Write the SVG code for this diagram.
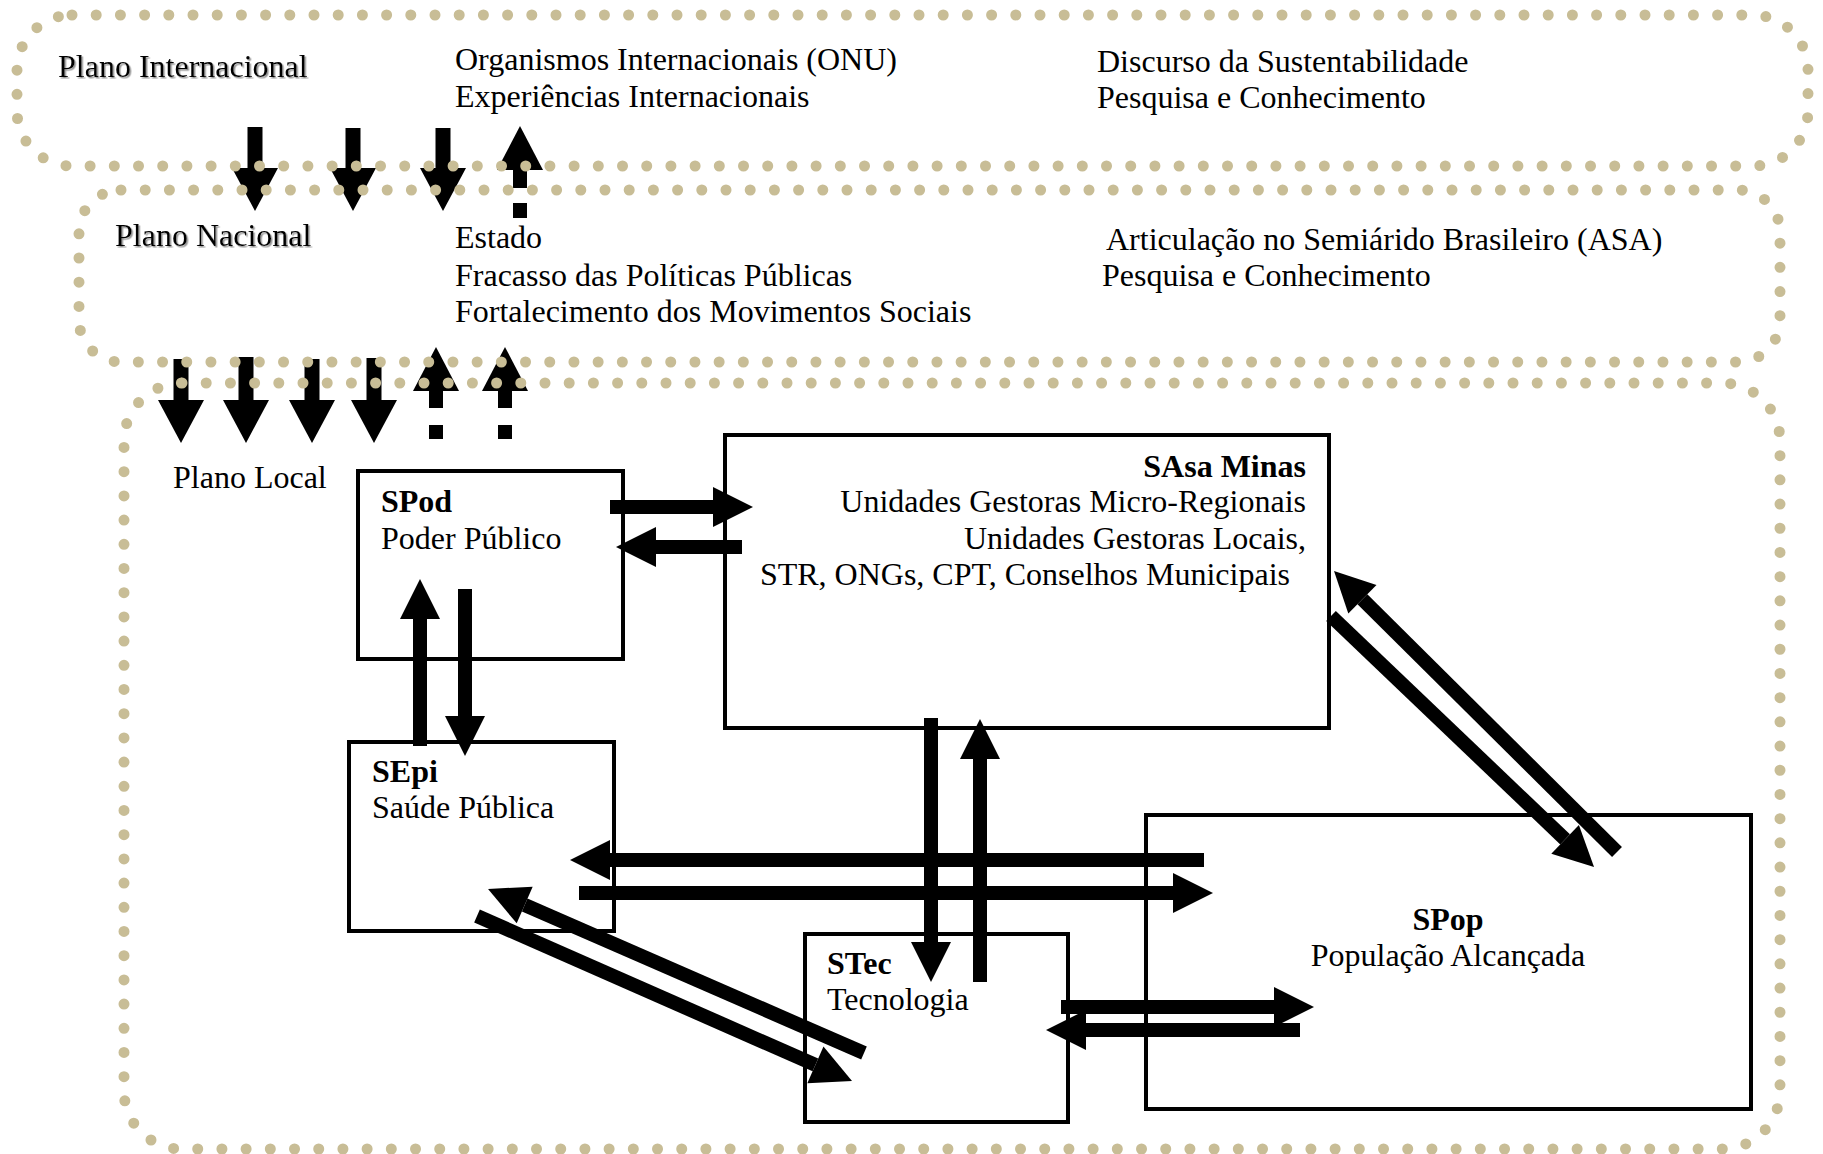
<svg xmlns="http://www.w3.org/2000/svg" width="1823" height="1154" viewBox="0 0 1823 1154">
  <style>
    .t { font-family: "Liberation Serif", "Times New Roman", serif; font-size: 32px; fill: #000; }
    .b { font-weight: bold; }
    .box { fill: none; stroke: #000; stroke-width: 4; }
    .plane { fill: none; stroke: #c8bd96; stroke-width: 11; stroke-linecap: round; stroke-dasharray: 0 24.2; }
    .shaft { stroke: #000; stroke-width: 14; fill: none; marker-end: url(#head); }
    .shaftL { stroke: #000; stroke-width: 15; fill: none; marker-end: url(#headL); }
  </style>
  <defs>
    <marker id="head" markerUnits="userSpaceOnUse" viewBox="0 -20 40 40" markerWidth="40" markerHeight="40" refX="0" refY="0" orient="auto" overflow="visible">
      <path d="M0,-20 L40,0 L0,20 Z" fill="#000"/>
    </marker>
    <marker id="headL" markerUnits="userSpaceOnUse" viewBox="0 -23 43 46" markerWidth="43" markerHeight="46" refX="0" refY="0" orient="auto" overflow="visible">
      <path d="M0,-23 L43,0 L0,23 Z" fill="#000"/>
    </marker>
    <filter id="shadow" x="-5%" y="-30%" width="110%" height="160%">
      <feDropShadow dx="1.5" dy="1.5" stdDeviation="0.6" flood-color="#8a8a8a" flood-opacity="0.9"/>
    </filter>
  </defs>

  <!-- subsystem boxes -->
  <g id="spod">
    <rect class="box" x="358" y="471" width="265" height="188"/>
    <text class="t b" x="381" y="512">SPod</text>
    <text class="t" x="381" y="549">Poder Público</text>
  </g>
  <g id="sasa">
    <rect class="box" x="725" y="435" width="604" height="293"/>
    <text class="t b" x="1306" y="477" text-anchor="end">SAsa Minas</text>
    <text class="t" x="1306" y="512" text-anchor="end">Unidades Gestoras Micro-Regionais</text>
    <text class="t" x="1306" y="549" text-anchor="end">Unidades Gestoras Locais,</text>
    <text class="t" x="1290" y="585" text-anchor="end">STR, ONGs, CPT, Conselhos Municipais</text>
  </g>
  <g id="sepi">
    <rect class="box" x="349" y="742" width="265" height="189"/>
    <text class="t b" x="372" y="782">SEpi</text>
    <text class="t" x="372" y="818">Saúde Pública</text>
  </g>
  <g id="stec">
    <rect class="box" x="805" y="934" width="263" height="188"/>
    <text class="t b" x="827" y="974">STec</text>
    <text class="t" x="827" y="1010">Tecnologia</text>
  </g>
  <g id="spop">
    <rect class="box" x="1146" y="815" width="605" height="294"/>
    <text class="t b" x="1448" y="930" text-anchor="middle">SPop</text>
    <text class="t" x="1448" y="966" text-anchor="middle">População Alcançada</text>
  </g>

  <!-- connectors -->
  <g id="connectors">
    <!-- internacional <-> nacional -->
    <line class="shaftL" x1="255" y1="127" x2="255" y2="168"/>
    <line class="shaftL" x1="353" y1="128" x2="353" y2="168"/>
    <line class="shaftL" x1="443" y1="128" x2="443" y2="168"/>
    <g id="up-dashed-1" fill="#000">
      <path d="M497,170 L520,126 L543,170 Z"/>
      <rect x="513" y="170" width="14" height="18"/>
      <rect x="513" y="203" width="14" height="15"/>
    </g>
    <!-- nacional <-> local -->
    <line class="shaftL" x1="181" y1="359" x2="181" y2="400"/>
    <line class="shaftL" x1="246" y1="357" x2="246" y2="400"/>
    <line class="shaftL" x1="312" y1="359" x2="312" y2="400"/>
    <line class="shaftL" x1="374" y1="358" x2="374" y2="400"/>
    <g id="up-dashed-2" fill="#000">
      <path d="M413,391 L436,347 L459,391 Z"/>
      <rect x="429" y="391" width="14" height="17"/>
      <rect x="429" y="425" width="14" height="14"/>
      <path d="M482,391 L505,347 L528,391 Z"/>
      <rect x="498" y="391" width="14" height="17"/>
      <rect x="498" y="425" width="14" height="14"/>
    </g>
    <!-- SPod <-> SAsa -->
    <line class="shaft" x1="610" y1="507" x2="713" y2="507"/>
    <line class="shaft" x1="742" y1="547" x2="656" y2="547"/>
    <!-- SPod <-> SEpi -->
    <line class="shaft" x1="420" y1="746" x2="420" y2="619"/>
    <line class="shaft" x1="465" y1="589" x2="465" y2="716"/>
    <!-- SAsa <-> STec -->
    <line class="shaft" x1="931" y1="718" x2="931" y2="942"/>
    <line class="shaft" x1="980" y1="982" x2="980" y2="759"/>
    <!-- SEpi <-> SPop -->
    <line class="shaft" x1="1204" y1="860" x2="610" y2="860"/>
    <line class="shaft" x1="579" y1="893" x2="1173" y2="893"/>
    <!-- STec <-> SPop -->
    <line class="shaft" x1="1061" y1="1007" x2="1274" y2="1007"/>
    <line class="shaft" x1="1300" y1="1030" x2="1086" y2="1030"/>
    <!-- SEpi <-> STec -->
    <line class="shaft" x1="864" y1="1053" x2="524.7" y2="905"/>
    <line class="shaft" x1="477" y1="916" x2="815.4" y2="1064.9"/>
    <!-- SAsa <-> SPop -->
    <line class="shaft" x1="1617" y1="852" x2="1362.4" y2="599.2"/>
    <line class="shaft" x1="1331" y1="616" x2="1565.1" y2="839.4"/>
  </g>

  <!-- planes -->
  <g id="plano-internacional">
    <rect class="plane" x="17" y="15" width="1791" height="151" rx="55" ry="55"/>
    <text class="t" x="58" y="77" filter="url(#shadow)">Plano Internacional</text>
    <text class="t" x="455" y="70">Organismos Internacionais (ONU)</text>
    <text class="t" x="455" y="107">Experiências Internacionais</text>
    <text class="t" x="1097" y="72">Discurso da Sustentabilidade</text>
    <text class="t" x="1097" y="108">Pesquisa e Conhecimento</text>
  </g>
  <g id="plano-nacional">
    <rect class="plane" x="79" y="190" width="1701" height="172" rx="42" ry="42"/>
    <text class="t" x="115" y="246" filter="url(#shadow)">Plano Nacional</text>
    <text class="t" x="455" y="248">Estado</text>
    <text class="t" x="455" y="286">Fracasso das Políticas Públicas</text>
    <text class="t" x="455" y="322">Fortalecimento dos Movimentos Sociais</text>
    <text class="t" x="1106" y="250">Articulação no Semiárido Brasileiro (ASA)</text>
    <text class="t" x="1102" y="286">Pesquisa e Conhecimento</text>
  </g>
  <g id="plano-local">
    <rect class="plane" x="124" y="383" width="1656" height="766" rx="58" ry="58"/>
    <text class="t" x="173" y="488">Plano Local</text>
  </g>
</svg>
